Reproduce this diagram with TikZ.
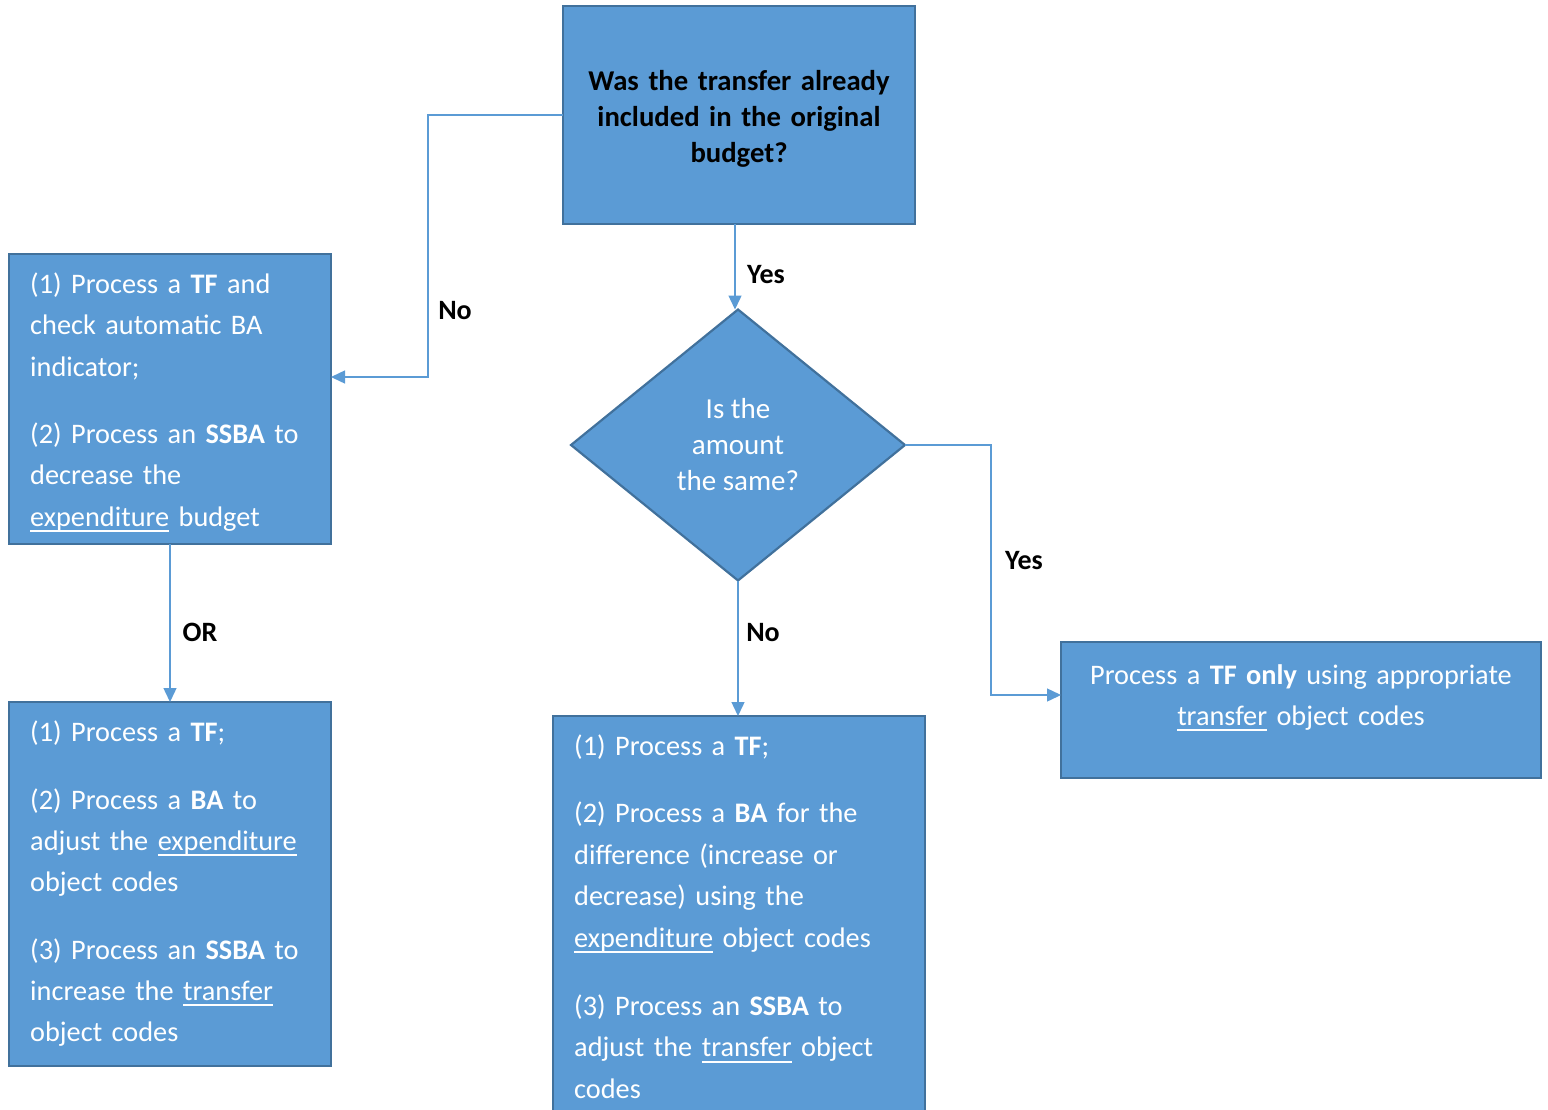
\documentclass[tikz,border=0pt]{standalone}
\usepackage{fontspec}
\setmainfont{Carlito}
\usetikzlibrary{arrows.meta,shapes.geometric}
\definecolor{boxfill}{HTML}{5B9BD5}
\definecolor{boxline}{HTML}{41719C}
\definecolor{arrowcol}{HTML}{5B9BD5}
\newsavebox\ulsbox
\newcommand\ulx[1]{\leavevmode\sbox\ulsbox{#1}\rlap{\rule[-6pt]{\wd\ulsbox}{2pt}}\usebox\ulsbox}
\tikzset{
  box/.style={draw=boxline, fill=boxfill, line width=2.2pt, inner sep=0pt, outer sep=0pt},
  dia/.style={box, diamond, font=\fontsize{29}{36}\selectfont, text=white, align=center},
  btxt/.style={text=white, inner sep=0pt, font=\fontsize{28.3}{41.5}\selectfont},
  lbl/.style={font=\fontsize{28}{34}\selectfont\bfseries, inner sep=0pt},
  arr/.style={draw=arrowcol, line width=1.4pt, -{Triangle[length=14pt,width=13pt]}},
}
\begin{document}
\begin{tikzpicture}[x=1pt,y=-1pt]
\useasboundingbox (0,0) rectangle (1548,1109);
% boxes
\node[box, minimum width=352pt, minimum height=218pt, anchor=north west] (top) at (563,6) {};
\node[box, minimum width=322pt, minimum height=290pt, anchor=north west] (b1) at (9,254) {};
\node[box, minimum width=322pt, minimum height=364pt, anchor=north west] (b2) at (9,702) {};
\node[box, minimum width=372pt, minimum height=410pt, anchor=north west] (bc) at (553,716) {};
\node[box, minimum width=480pt, minimum height=136pt, anchor=north west] (rb) at (1061,642) {};
\node[dia, minimum width=334pt, minimum height=271pt] (d) at (738,445)
      {Is the\\amount\\the same?};
% box texts
\node[inner sep=0pt, text width=352pt, align=center, anchor=base,
      font=\fontsize{28.7}{36}\selectfont\bfseries] (t0) at (739,90)
      {Was the transfer already\\included in the original\\budget?};
\node[btxt, text width=320pt, align=left, anchor=base west] (t1) at (30,293)
  {(1) Process a \textbf{TF} and\\check automatic BA\\indicator;\\[25.5pt]
   (2) Process an \textbf{SSBA} to\\decrease the\\\ulx{expenditure} budget};
\node[btxt, text width=320pt, align=left, anchor=base west,
      font=\fontsize{28.3}{41}\selectfont] (t2) at (30,741)
  {(1) Process a \textbf{TF};\\[27pt]
   (2) Process a \textbf{BA} to\\adjust the \ulx{expenditure}\\object codes\\[27pt]
   (3) Process an \textbf{SSBA} to\\increase the \ulx{transfer}\\object codes};
\node[btxt, text width=360pt, align=left, anchor=base west,
      font=\fontsize{28.3}{41.6}\selectfont] (t3) at (574,755)
  {(1) Process a \textbf{TF};\\[26pt]
   (2) Process a \textbf{BA} for the\\difference (increase or\\decrease) using the\\\ulx{expenditure} object codes\\[26pt]
   (3) Process an \textbf{SSBA} to\\adjust the \ulx{transfer} object\\codes};
\node[btxt, text width=470pt, align=center, anchor=base,
      font=\fontsize{28.3}{41}\selectfont] (t4) at (1301,684)
  {Process a \textbf{TF only} using appropriate\\\ulx{transfer} object codes};
% connectors
\draw[arr] (top.west) -- ++(-135,0) |- ([yshift=22pt]b1.east);
\draw[arr] ([xshift=-3pt]d.north |- top.south) -- ([xshift=-3pt]d.north);
\draw[arr] (d.east) -- ++(86,0) |- ([yshift=15pt]rb.west);
\draw[arr] (d.south) -- (d.south |- bc.north);
\draw[arr] (b1.south) -- (b2.north);
% labels
\node[lbl] (lno1) at (455,311) {No};
\node[lbl] (lyes1) at (766,275) {Yes};
\node[lbl] (lyes2) at (1024,561) {Yes};
\node[lbl] (lno2) at (763,633) {No};
\node[lbl] (lor) at (200,632) {OR};
\end{tikzpicture}
\end{document}
